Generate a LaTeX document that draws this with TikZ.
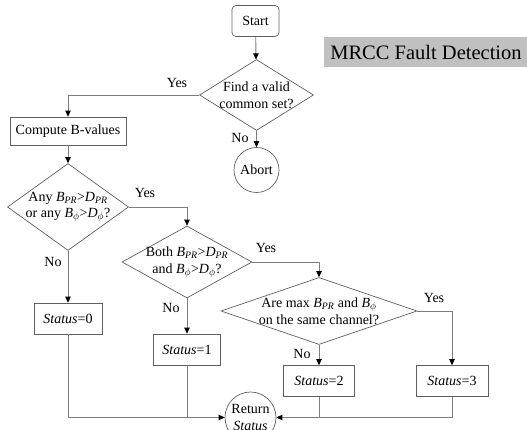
\documentclass[tikz,border=0pt]{standalone}
\usepackage{fontspec}
\setmainfont{Liberation Serif}
\usetikzlibrary{shapes.geometric,arrows.meta}
\newcommand\Bsub[1]{\textit{B}\textsubscript{\textit{#1}}}
\newcommand\Dsub[1]{\textit{D}\textsubscript{\textit{#1}}}
\definecolor{edgegray}{RGB}{125,125,125}
\definecolor{framegray}{RGB}{95,95,95}
\definecolor{titlegray}{RGB}{192,192,192}
\begin{document}
\begin{tikzpicture}[x=1pt,y=-1pt,
  every node/.style={font=\fontsize{14}{16.5}\selectfont, text=black},
  box/.style={draw=framegray, line width=0.7pt, rectangle, inner sep=0pt},
  dia/.style={draw=framegray, line width=0.7pt, diamond, inner sep=0pt},
  term/.style={draw=framegray, line width=0.7pt, circle, inner sep=0pt},
  flow/.style={draw=edgegray, line width=0.9pt,
    -{Triangle[length=6pt,width=5.5pt,color=black]}},
  mergeline/.style={draw=edgegray, line width=0.9pt},
  lbl/.style={inner sep=0pt}]
\useasboundingbox (0,0) rectangle (527,430);

% title banner
\node[fill=titlegray, minimum width=210pt, minimum height=30pt, inner sep=0pt,
      font=\fontsize{20.5}{24}\selectfont] (title) at (429,52) {MRCC Fault Detection\hspace*{6pt}};

% process nodes
\node[box, rounded corners=4pt, minimum width=47pt, minimum height=31pt] (start) at (255.5,21) {Start};
\node[dia, minimum width=114pt, minimum height=71pt] (d1) at (256.5,95) {};
\node[align=center] at (d1) {Find a valid\\common set?};
\node[term, minimum size=45pt] (abort) at (256.5,170) {Abort};
\node[box, minimum width=116pt, minimum height=28pt] (comp) at (68,131) {Compute B-values};
\node[dia, minimum width=121pt, minimum height=87pt] (d2) at (68,207) {};
\node[align=center] at (d2) {Any \Bsub{PR}>\Dsub{PR}\\or any \Bsub{$\phi$}>\Dsub{$\phi$}?};
\node[dia, minimum width=130pt, minimum height=72pt] (d3) at (187,262) {};
\node[align=center] at (d3) {Both \Bsub{PR}>\Dsub{PR}\\and \Bsub{$\phi$}>\Dsub{$\phi$}?};
\node[dia, minimum width=196pt, minimum height=67pt] (d4) at (319,311) {};
\node[align=center] at (d4) {Are max \Bsub{PR} and \Bsub{$\phi$}\\on the same channel?};

\node[box, minimum width=68pt, minimum height=31pt] (s0) at (68,318.5) {\textit{Status}=0};
\node[box, minimum width=67pt, minimum height=31pt] (s1) at (187,349.5) {\textit{Status}=1};
\node[box, minimum width=71pt, minimum height=31pt] (s2) at (319,381) {\textit{Status}=2};
\node[box, minimum width=72pt, minimum height=31pt] (s3) at (452,381) {\textit{Status}=3};
\node[term, minimum size=51pt, align=center] (ret) at (250.5,417.5) {Return\\\textit{Status}};

% connectors
\draw[flow] (start) -- (d1);
\draw[flow] (d1.south) -- (abort);
\draw[flow] (d1.west) -| (comp.north);
\draw[flow] (comp) -- (d2);
\draw[flow] (d2.east) -| (d3.north);
\draw[flow] (d2.south) -- (s0);
\draw[flow] (d3.east) -| (d4.north);
\draw[flow] (d3.south) -- (s1);
\draw[flow] (d4.east) -| (s3.north);
\draw[flow] (d4.south) -- (s2);

\coordinate (jl) at (s1.south |- ret.west);
\coordinate (jr) at (s2.south |- ret.east);
\draw[flow] (s0.south) |- (ret.west);
\draw[mergeline] (s1.south) -- (jl);
\draw[flow] (s3.south) |- (ret.east);
\draw[mergeline] (s2.south) -- (jr);

% branch labels
\node[lbl] (y1) at (177,83) {Yes};
\node[lbl] (n1) at (240,138) {No};
\node[lbl] (y2) at (145,193) {Yes};
\node[lbl] (n2) at (53,262) {No};
\node[lbl] (y3) at (266,248) {Yes};
\node[lbl] (n3) at (171,308) {No};
\node[lbl] (y4) at (434,298) {Yes};
\node[lbl] (n4) at (302,354) {No};
\end{tikzpicture}
\end{document}
